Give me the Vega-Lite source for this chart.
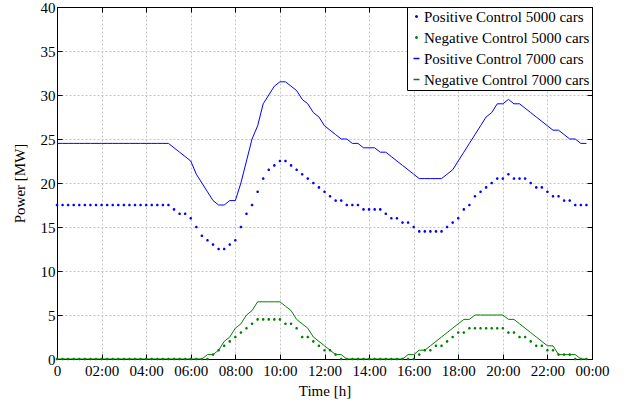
{
  "$schema": "https://vega.github.io/schema/vega-lite/v6.json",
  "autosize": {"type": "none"},
  "padding": {"left": 57, "top": 7, "right": 38, "bottom": 44},
  "width": 535,
  "height": 352,
  "background": "white",
  "config": {
    "view": {"stroke": "black", "strokeWidth": 1},
    "font": "Liberation Serif",
    "axis": {
      "labelFont": "Liberation Serif", "labelFontSize": 15, "labelColor": "black",
      "titleFont": "Liberation Serif", "titleFontSize": 15, "titleFontWeight": "normal", "titleColor": "black",
      "domainColor": "black", "tickColor": "black", "gridColor": "#c4c4c4", "gridDash": [2, 2], "gridWidth": 1
    }
  },
  "data": {"values": [
    {"h":0,"p5":17.5,"n5":0,"p7":24.5,"n7":0},
    {"h":0.25,"p5":17.5,"n5":0,"p7":24.5,"n7":0},
    {"h":0.5,"p5":17.5,"n5":0,"p7":24.5,"n7":0},
    {"h":0.75,"p5":17.5,"n5":0,"p7":24.5,"n7":0},
    {"h":1,"p5":17.5,"n5":0,"p7":24.5,"n7":0},
    {"h":1.25,"p5":17.5,"n5":0,"p7":24.5,"n7":0},
    {"h":1.5,"p5":17.5,"n5":0,"p7":24.5,"n7":0},
    {"h":1.75,"p5":17.5,"n5":0,"p7":24.5,"n7":0},
    {"h":2,"p5":17.5,"n5":0,"p7":24.5,"n7":0},
    {"h":2.25,"p5":17.5,"n5":0,"p7":24.5,"n7":0},
    {"h":2.5,"p5":17.5,"n5":0,"p7":24.5,"n7":0},
    {"h":2.75,"p5":17.5,"n5":0,"p7":24.5,"n7":0},
    {"h":3,"p5":17.5,"n5":0,"p7":24.5,"n7":0},
    {"h":3.25,"p5":17.5,"n5":0,"p7":24.5,"n7":0},
    {"h":3.5,"p5":17.5,"n5":0,"p7":24.5,"n7":0},
    {"h":3.75,"p5":17.5,"n5":0,"p7":24.5,"n7":0},
    {"h":4,"p5":17.5,"n5":0,"p7":24.5,"n7":0},
    {"h":4.25,"p5":17.5,"n5":0,"p7":24.5,"n7":0},
    {"h":4.5,"p5":17.5,"n5":0,"p7":24.5,"n7":0},
    {"h":4.75,"p5":17.5,"n5":0,"p7":24.5,"n7":0},
    {"h":5,"p5":17.5,"n5":0,"p7":24.5,"n7":0},
    {"h":5.25,"p5":17,"n5":0,"p7":24,"n7":0},
    {"h":5.5,"p5":16.5,"n5":0,"p7":23.5,"n7":0},
    {"h":5.75,"p5":16.5,"n5":0,"p7":23,"n7":0},
    {"h":6,"p5":16,"n5":0,"p7":22.5,"n7":0},
    {"h":6.25,"p5":15,"n5":0,"p7":21,"n7":0},
    {"h":6.5,"p5":14,"n5":0,"p7":20,"n7":0},
    {"h":6.75,"p5":13.5,"n5":0,"p7":19,"n7":0.5},
    {"h":7,"p5":13,"n5":0.5,"p7":18,"n7":0.5},
    {"h":7.25,"p5":12.5,"n5":1,"p7":17.5,"n7":1},
    {"h":7.5,"p5":12.5,"n5":1.5,"p7":17.5,"n7":2},
    {"h":7.75,"p5":13,"n5":2,"p7":18,"n7":2.5},
    {"h":8,"p5":13.5,"n5":2.5,"p7":18,"n7":3.5},
    {"h":8.25,"p5":15,"n5":3,"p7":20,"n7":4},
    {"h":8.5,"p5":16.5,"n5":3.5,"p7":22.5,"n7":5},
    {"h":8.75,"p5":17.5,"n5":4,"p7":25,"n7":5.5},
    {"h":9,"p5":19,"n5":4.5,"p7":26.5,"n7":6.5},
    {"h":9.25,"p5":20.5,"n5":4.5,"p7":29,"n7":6.5},
    {"h":9.5,"p5":21.5,"n5":4.5,"p7":30,"n7":6.5},
    {"h":9.75,"p5":22,"n5":4.5,"p7":31,"n7":6.5},
    {"h":10,"p5":22.5,"n5":4.5,"p7":31.5,"n7":6.5},
    {"h":10.25,"p5":22.5,"n5":4,"p7":31.5,"n7":6},
    {"h":10.5,"p5":22,"n5":4,"p7":31,"n7":5.5},
    {"h":10.75,"p5":21.5,"n5":3.5,"p7":30.5,"n7":4.5},
    {"h":11,"p5":21,"n5":2.5,"p7":29.5,"n7":4},
    {"h":11.25,"p5":20.5,"n5":2.5,"p7":29,"n7":3.5},
    {"h":11.5,"p5":20,"n5":2,"p7":28,"n7":2.5},
    {"h":11.75,"p5":19.5,"n5":1.5,"p7":27.5,"n7":2},
    {"h":12,"p5":19,"n5":1,"p7":26.5,"n7":1.5},
    {"h":12.25,"p5":18.5,"n5":1,"p7":26,"n7":1},
    {"h":12.5,"p5":18,"n5":0.5,"p7":25.5,"n7":0.5},
    {"h":12.75,"p5":18,"n5":0,"p7":25,"n7":0.5},
    {"h":13,"p5":17.5,"n5":0,"p7":25,"n7":0},
    {"h":13.25,"p5":17.5,"n5":0,"p7":24.5,"n7":0},
    {"h":13.5,"p5":17.5,"n5":0,"p7":24.5,"n7":0},
    {"h":13.75,"p5":17,"n5":0,"p7":24,"n7":0},
    {"h":14,"p5":17,"n5":0,"p7":24,"n7":0},
    {"h":14.25,"p5":17,"n5":0,"p7":24,"n7":0},
    {"h":14.5,"p5":17,"n5":0,"p7":23.5,"n7":0},
    {"h":14.75,"p5":16.5,"n5":0,"p7":23.5,"n7":0},
    {"h":15,"p5":16,"n5":0,"p7":23,"n7":0},
    {"h":15.25,"p5":16,"n5":0,"p7":22.5,"n7":0},
    {"h":15.5,"p5":15.5,"n5":0,"p7":22,"n7":0},
    {"h":15.75,"p5":15.5,"n5":0,"p7":21.5,"n7":0.5},
    {"h":16,"p5":15,"n5":0,"p7":21,"n7":0.5},
    {"h":16.25,"p5":14.5,"n5":0.5,"p7":20.5,"n7":1},
    {"h":16.5,"p5":14.5,"n5":1,"p7":20.5,"n7":1},
    {"h":16.75,"p5":14.5,"n5":1,"p7":20.5,"n7":1.5},
    {"h":17,"p5":14.5,"n5":1.5,"p7":20.5,"n7":2},
    {"h":17.25,"p5":14.5,"n5":1.5,"p7":20.5,"n7":2.5},
    {"h":17.5,"p5":15,"n5":2,"p7":21,"n7":3},
    {"h":17.75,"p5":15.5,"n5":2.5,"p7":21.5,"n7":3.5},
    {"h":18,"p5":16,"n5":3,"p7":22.5,"n7":4},
    {"h":18.25,"p5":17,"n5":3,"p7":23.5,"n7":4.5},
    {"h":18.5,"p5":17.5,"n5":3.5,"p7":24.5,"n7":4.5},
    {"h":18.75,"p5":18.5,"n5":3.5,"p7":25.5,"n7":5},
    {"h":19,"p5":19,"n5":3.5,"p7":26.5,"n7":5},
    {"h":19.25,"p5":19.5,"n5":3.5,"p7":27.5,"n7":5},
    {"h":19.5,"p5":20,"n5":3.5,"p7":28,"n7":5},
    {"h":19.75,"p5":20.5,"n5":3.5,"p7":29,"n7":5},
    {"h":20,"p5":20.5,"n5":3.5,"p7":29,"n7":5},
    {"h":20.25,"p5":21,"n5":3,"p7":29.5,"n7":4.5},
    {"h":20.5,"p5":20.5,"n5":3,"p7":29,"n7":4.5},
    {"h":20.75,"p5":20.5,"n5":2.5,"p7":29,"n7":4},
    {"h":21,"p5":20.5,"n5":2.5,"p7":28.5,"n7":3.5},
    {"h":21.25,"p5":20,"n5":2,"p7":28,"n7":3},
    {"h":21.5,"p5":19.5,"n5":1.5,"p7":27.5,"n7":2.5},
    {"h":21.75,"p5":19.5,"n5":1.5,"p7":27,"n7":2},
    {"h":22,"p5":19,"n5":1,"p7":26.5,"n7":1.5},
    {"h":22.25,"p5":18.5,"n5":1,"p7":26,"n7":1.5},
    {"h":22.5,"p5":18.5,"n5":0.5,"p7":26,"n7":0.5},
    {"h":22.75,"p5":18,"n5":0.5,"p7":25.5,"n7":0.5},
    {"h":23,"p5":18,"n5":0.5,"p7":25,"n7":0.5},
    {"h":23.25,"p5":17.5,"n5":0,"p7":25,"n7":0.5},
    {"h":23.5,"p5":17.5,"n5":0,"p7":24.5,"n7":0},
    {"h":23.75,"p5":17.5,"n5":0,"p7":24.5,"n7":0}
  ]},
  "transform": [{"fold": ["p5", "n5", "p7", "n7"], "as": ["key", "v"]}],
  "layer": [
    {
      "transform": [{"filter": "datum.key == 'p7'"}],
      "mark": {"type": "point", "opacity": 0},
      "encoding": {
        "x": {"field": "h", "type": "quantitative", "scale": {"domain": [0, 24], "nice": false, "zero": false}, "axis": {"orient": "top", "values": [0, 2, 4, 6, 8, 10, 12, 14, 16, 18, 20, 22, 24], "labels": false, "title": null, "grid": false, "tickSize": -5}},
        "y": {"field": "v", "type": "quantitative", "scale": {"domain": [0, 40], "nice": false}, "axis": {"orient": "right", "values": [0, 5, 10, 15, 20, 25, 30, 35, 40], "labels": false, "title": null, "grid": false, "tickSize": -5}}
      }
    },
    {
      "transform": [{"filter": "datum.key == 'p5' || datum.key == 'n5'"}],
      "mark": {"type": "point", "filled": true, "size": 110, "opacity": 1, "strokeWidth": 0},
      "encoding": {
        "x": {
          "field": "h", "type": "quantitative",
          "axis": {
            "orient": "bottom",
            "values": [0, 2, 4, 6, 8, 10, 12, 14, 16, 18, 20, 22, 24],
            "labelExpr": "datum.value == 0 ? '0' : (datum.value == 24 ? '00:00' : (datum.value < 10 ? '0' : '') + datum.value + ':00')",
            "title": "Time [h]", "grid": true, "tickSize": -5, "labelPadding": 9, "titlePadding": 5, "labelFlush": false
          }
        },
        "y": {
          "field": "v", "type": "quantitative",
          "axis": {
            "orient": "left",
            "values": [0, 5, 10, 15, 20, 25, 30, 35, 40],
            "title": "Power [MW]", "grid": true, "tickSize": -5, "labelPadding": 7, "titlePadding": 13
          }
        },
        "color": {
          "field": "key", "type": "nominal",
          "scale": {"domain": ["p5", "n5", "p7", "n7"], "range": ["#0000ff", "#008000", "#0000ff", "#008000"]},
          "legend": {
            "title": null, "orient": "top-right", "offset": 0,
            "labelExpr": "datum.value == 'p5' ? 'Positive Control 5000 cars' : (datum.value == 'n5' ? 'Negative Control 5000 cars' : (datum.value == 'p7' ? 'Positive Control 7000 cars' : 'Negative Control 7000 cars'))",
            "labelFont": "Liberation Serif", "labelFontSize": 15, "labelColor": "black", "labelLimit": 300,
            "symbolSize": 36, "labelOffset": 0, "rowPadding": 5, "padding": 2,
            "strokeColor": "black", "fillColor": "white",
            "encode": {"symbols": {"update": {"stroke": {"scale": "color", "field": "value"}, "strokeWidth": {"value": 1.3}, "opacity": {"value": 1}}}}
          }
        },
        "shape": {
          "field": "key", "type": "nominal",
          "scale": {"domain": ["p5", "n5", "p7", "n7"], "range": ["M-0.25,0A0.25,0.25,0,1,1,0.25,0A0.25,0.25,0,1,1,-0.25,0Z", "M-0.25,0A0.25,0.25,0,1,1,0.25,0A0.25,0.25,0,1,1,-0.25,0Z", "M-1,0H1", "M-1,0H1"]}
        }
      }
    },
    {
      "transform": [{"filter": "datum.key == 'p7' || datum.key == 'n7'"}],
      "mark": {"type": "line", "strokeWidth": 1},
      "encoding": {
        "x": {"field": "h", "type": "quantitative", "axis": null},
        "y": {"field": "v", "type": "quantitative", "axis": null},
        "color": {"field": "key", "type": "nominal"}
      }
    }
  ],
  "resolve": {"axis": {"x": "independent", "y": "independent"}}
}
